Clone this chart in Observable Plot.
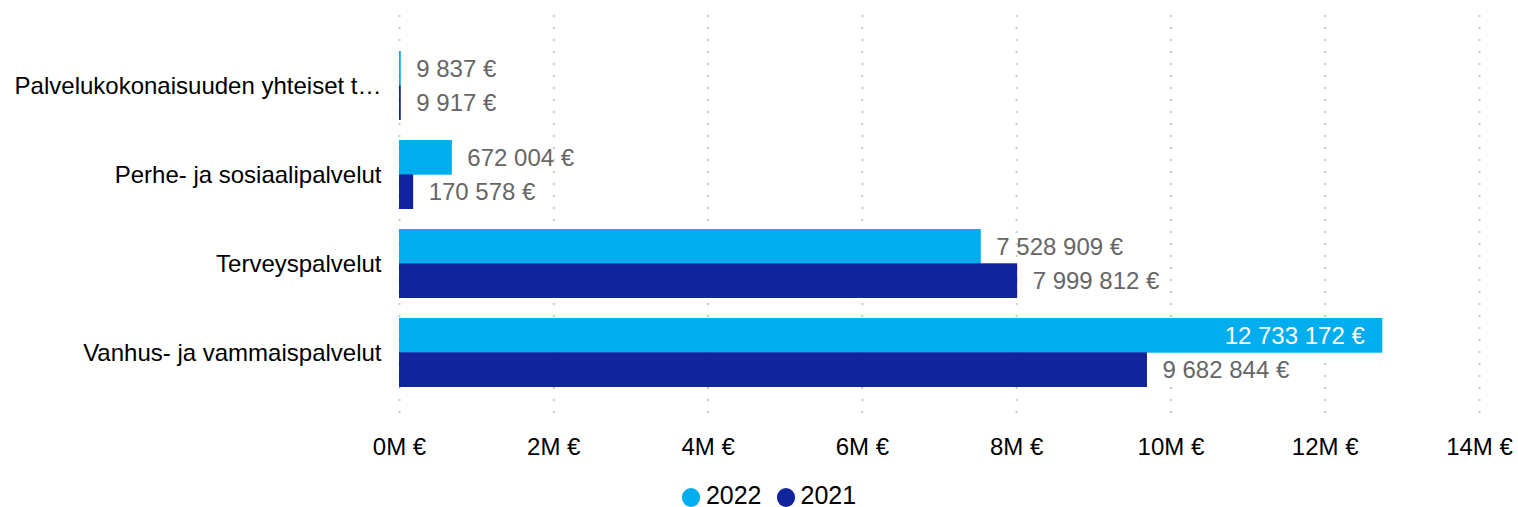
<!DOCTYPE html>
<html>
<head>
<meta charset="utf-8">
<script src="https://cdn.jsdelivr.net/npm/d3@7"></script>
<script src="https://cdn.jsdelivr.net/npm/@observablehq/plot@0.6"></script>
<style>
  html, body { margin: 0; padding: 0; background: #fff; overflow: hidden; }
  #wrap { position: relative; width: 1518px; height: 507px; font-family: "Liberation Sans", Arial, sans-serif; }
  #legend { position: absolute; left: 20px; top: 482.5px; width: 1498px; display: flex; justify-content: center; align-items: flex-start; font-size: 25px; line-height: 25px; color: #000; }
  .item { display: flex; align-items: flex-start; margin: 0 7.5px; }
  .dot { width: 18.5px; height: 18.5px; border-radius: 50%; margin-top: 5.5px; margin-right: 5.5px; }
</style>
</head>
<body>
<div id="wrap">
  <div id="chart"></div>
  <div id="legend"></div>
</div>
<script>
const categories = [
  "Palvelukokonaisuuden yhteiset t…",
  "Perhe- ja sosiaalipalvelut",
  "Terveyspalvelut",
  "Vanhus- ja vammaispalvelut"
];
const years = ["2022", "2021"];
const values2022 = [9837, 672004, 7528909, 12733172];
const values2021 = [9917, 170578, 7999812, 9682844];
const xTicks = [0, 2e6, 4e6, 6e6, 8e6, 10e6, 12e6, 14e6];
const colors = {"2022": "#00ADEE", "2021": "#12239E"};

const fi = d3.formatLocale({decimal: ",", thousands: " ", grouping: [3], currency: ["", " €"]});
const fmt = fi.format(",.0f");

const W = 1518, H = 470, mL = 399, mR = 39, mT = 15, mB = 47;
const FS = 24;
const pInner = 0.23, pOuter = 0.405;
const step = (H - mT - mB) / (categories.length - pInner + 2 * pOuter);
const bw = step * (1 - pInner);
const half = bw / 2;
const xMax = 14e6;
const pxPerUnit = (W - mL - mR) / xMax;

const rows = [];
categories.forEach((c, i) => {
  rows.push({category: c, year: "2022", value: values2022[i]});
  rows.push({category: c, year: "2021", value: values2021[i]});
});
rows.forEach(d => {
  d.label = fmt(d.value) + " €";
  const est = d.label.length * 0.55 * FS;
  d.inside = d.value * pxPerUnit + 15 + est > (W - mL);
});

const r22 = rows.filter(d => d.year === "2022");
const r21 = rows.filter(d => d.year === "2021");

const chart = Plot.plot({
  width: W, height: H,
  marginLeft: mL, marginRight: mR, marginTop: mT, marginBottom: mB,
  style: {fontFamily: '"Liberation Sans", Arial, sans-serif', fontSize: FS + "px", color: "#000", background: "#fff", overflow: "visible"},
  x: {domain: [0, xMax], ticks: xTicks, tickFormat: d => (d / 1e6) + "M €", tickSize: 0, tickPadding: 14, label: null},
  y: {domain: categories, paddingInner: pInner, paddingOuter: pOuter, tickSize: 0, tickPadding: 18, label: null},
  marks: [
    Plot.ruleX(xTicks, {x: d => d, stroke: "#c8c8c8", strokeWidth: 2, strokeDasharray: "2,10"}),
    Plot.barX(r22, {x: "value", y: "category", fill: colors["2022"], insetBottom: half, insetRight: -1}),
    Plot.barX(r21, {x: "value", y: "category", fill: colors["2021"], insetTop: half, insetRight: -1}),
    Plot.text(r22.filter(d => !d.inside), {x: "value", y: "category", text: "label", dy: -half / 2, dx: 16, textAnchor: "start", fill: "#666666"}),
    Plot.text(r22.filter(d => d.inside), {x: "value", y: "category", text: "label", dy: -half / 2, dx: -17, textAnchor: "end", fill: "#ffffff"}),
    Plot.text(r21.filter(d => !d.inside), {x: "value", y: "category", text: "label", dy: half / 2, dx: 16, textAnchor: "start", fill: "#666666"}),
    Plot.text(r21.filter(d => d.inside), {x: "value", y: "category", text: "label", dy: half / 2, dx: -17, textAnchor: "end", fill: "#ffffff"})
  ]
});
document.getElementById("chart").appendChild(chart);

const legend = document.getElementById("legend");
years.forEach(y => {
  const item = document.createElement("div");
  item.className = "item";
  const dot = document.createElement("div");
  dot.className = "dot";
  dot.style.background = colors[y];
  const t = document.createElement("span");
  t.textContent = y;
  item.appendChild(dot);
  item.appendChild(t);
  legend.appendChild(item);
});
</script>
</body>
</html>
